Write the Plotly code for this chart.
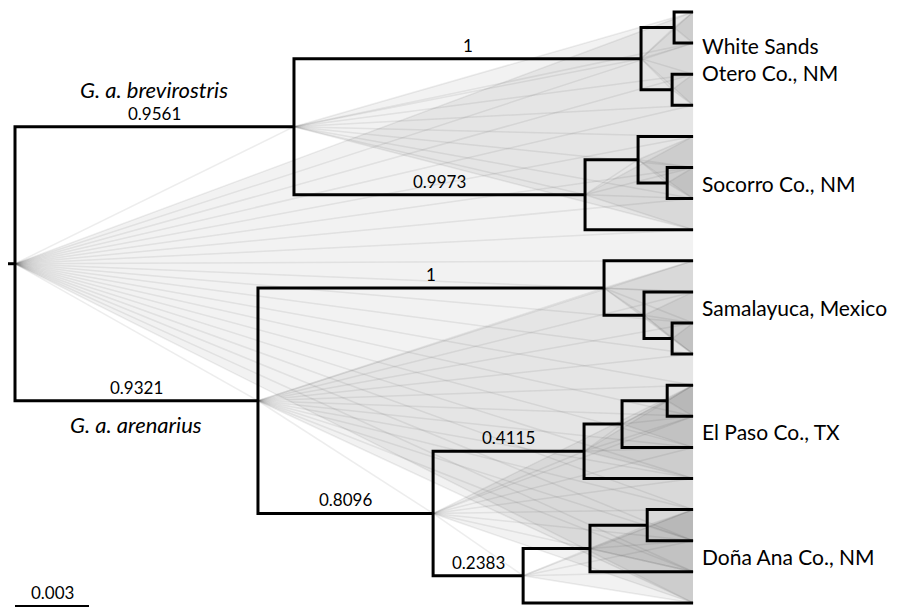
import plotly.graph_objects as go

# ---------------- data ----------------
# internal nodes: name, parent, height above tips (substitutions/site)
node_names   = ["root", "brev", "ws", "ws1", "ws2", "soc", "soc1", "soc11",
                "aren", "sam", "sam1", "sam11", "low", "ep", "ep1", "ep11",
                "da", "da1", "da11"]
node_parent  = [None, "root", "brev", "ws", "ws", "brev", "soc", "soc1",
                "root", "aren", "sam", "sam1", "aren", "low", "ep", "ep1",
                "low", "da", "da1"]
node_height  = [0.02749, 0.01618, 0.00211, 0.00077, 0.00085, 0.00438, 0.00223, 0.00105,
                0.01764, 0.00361, 0.00199, 0.00085, 0.01054, 0.00442, 0.00288, 0.00105,
                0.00689, 0.00418, 0.00186]

# tips (top to bottom) and their parent node
tip_parent = ["ws1", "ws1", "ws2", "ws2", "soc1", "soc11", "soc11", "soc",
              "sam", "sam1", "sam11", "sam11", "ep11", "ep11", "ep1", "ep",
              "da11", "da11", "da1", "da"]

# child order of each internal node (top child first)
children = {
    "root": ["brev", "aren"], "brev": ["ws", "soc"], "ws": ["ws1", "ws2"],
    "ws1": ["t0", "t1"], "ws2": ["t2", "t3"], "soc": ["soc1", "t7"],
    "soc1": ["t4", "soc11"], "soc11": ["t5", "t6"], "aren": ["sam", "low"],
    "sam": ["t8", "sam1"], "sam1": ["t9", "sam11"], "sam11": ["t10", "t11"],
    "low": ["ep", "da"], "ep": ["ep1", "t15"], "ep1": ["ep11", "t14"],
    "ep11": ["t12", "t13"], "da": ["da1", "t19"], "da1": ["da11", "t18"],
    "da11": ["t16", "t17"],
}

# posterior support on the branch leading to a node
support_nodes  = ["brev", "aren", "ws", "soc", "sam", "low", "ep", "da"]
support_labels = ["0.9561", "0.9321", "1", "0.9973", "1", "0.8096", "0.4115", "0.2383"]

# clade (population) labels: name, first tip, last tip
clade_labels = ["White Sands<br>Otero Co., NM", "Socorro Co., NM", "Samalayuca, Mexico",
                "El Paso Co., TX", "Doña Ana Co., NM"]
clade_first  = [0, 4, 8, 12, 16]
clade_last   = [3, 7, 11, 15, 19]

subsp_nodes  = ["brev", "aren"]
subsp_labels = ["<i>G. a. brevirostris</i>", "<i>G. a. arenarius</i>"]

scale_length = 0.003
root_stub = 0.0003

# ---------------- layout helpers ----------------
root_h = node_height[0]
X = {n: root_h - h for n, h in zip(node_names, node_height)}
parent = dict(zip(node_names, node_parent))
for i, p in enumerate(tip_parent):
    X[f"t{i}"] = root_h
    parent[f"t{i}"] = p

Y = {}
def get_y(n):
    if n in Y:
        return Y[n]
    if n.startswith("t"):
        Y[n] = float(n[1:])
    else:
        ys = [get_y(c) for c in children[n]]
        Y[n] = sum(ys) / len(ys)
    return Y[n]
for n in list(X):
    get_y(n)

def desc_tips(n):
    if n.startswith("t"):
        return [n]
    out = []
    for c in children[n]:
        out += desc_tips(c)
    return out

fig = go.Figure()

# ---- DensiTree-like cloud (derived from consensus topology) ----
for n in node_names:
    tips = desc_tips(n)
    fig.add_trace(go.Scatter(
        x=[X[n], X[tips[0]], X[tips[-1]], X[n]],
        y=[Y[n], Y[tips[0]], Y[tips[-1]], Y[n]],
        fill="toself", fillcolor="rgba(0,0,0,0.05)", mode="none",
        hoverinfo="skip", showlegend=False))
cx, cy = [], []
for n in node_names:
    for t in desc_tips(n):
        cx += [X[n], X[t], None]
        cy += [Y[n], Y[t], None]
    for c in children[n]:
        if not c.startswith("t"):
            cx += [X[n], X[c], None]
            cy += [Y[n], Y[c], None]
fig.add_trace(go.Scatter(x=cx, y=cy, mode="lines",
                         line=dict(color="rgba(60,60,60,0.09)", width=1.5),
                         hoverinfo="skip", showlegend=False))

# ---- consensus tree ----
lx, ly = [], []
for n in node_names:
    c1, c2 = children[n][0], children[n][-1]
    lx += [X[c1], X[n], X[n], X[c2], None]
    ly += [Y[c1], Y[c1], Y[c2], Y[c2], None]
lx += [X["root"] - root_stub, X["root"], None]
ly += [Y["root"], Y["root"], None]
fig.add_trace(go.Scatter(x=lx, y=ly, mode="lines",
                         line=dict(color="black", width=3),
                         hoverinfo="skip", showlegend=False))

FONT = "Lato, 'Open Sans', sans-serif"

# support values
for n, s in zip(support_nodes, support_labels):
    xm = (X[parent[n]] + X[n]) / 2
    fig.add_annotation(x=xm, y=Y[n], text=s, showarrow=False, yanchor="bottom",
                       yshift=1, font=dict(family=FONT, size=17, color="black"))

# clade labels
for lab, a, b in zip(clade_labels, clade_first, clade_last):
    fig.add_annotation(x=root_h, y=(a + b) / 2, text=lab, showarrow=False,
                       xanchor="left", xshift=7, align="left",
                       font=dict(family=FONT, size=21, color="black"))

# subspecies labels
for n, lab, up in zip(subsp_nodes, subsp_labels, [True, False]):
    xm = (X[parent[n]] + X[n]) / 2
    fig.add_annotation(x=xm, y=Y[n], text=lab, showarrow=False,
                       yanchor="bottom" if up else "top",
                       yshift=22 if up else -8,
                       font=dict(family=FONT, size=22, color="black"))

# scale bar (drawn below the last tip)
bar_y = 19.1
fig.add_trace(go.Scatter(x=[0, scale_length], y=[bar_y, bar_y], mode="lines",
                         line=dict(color="black", width=2),
                         hoverinfo="skip", showlegend=False))
fig.add_annotation(x=scale_length / 2, y=bar_y, text=f"{scale_length}",
                   showarrow=False, yanchor="bottom", yshift=1,
                   font=dict(family=FONT, size=17, color="black"))

# axes: page has an 8px body margin, ranges compensate for it
k = 0.003 / 74.0
fig.update_xaxes(range=[-7 * k, 896 * k], visible=False)
fig.update_yaxes(range=[(616 - 12) / 31.1, (8 - 12) / 31.1], visible=False)
fig.update_layout(width=903, height=608, margin=dict(l=0, r=0, t=0, b=0),
                  plot_bgcolor="white", paper_bgcolor="white")

fig.write_html("out.html")
